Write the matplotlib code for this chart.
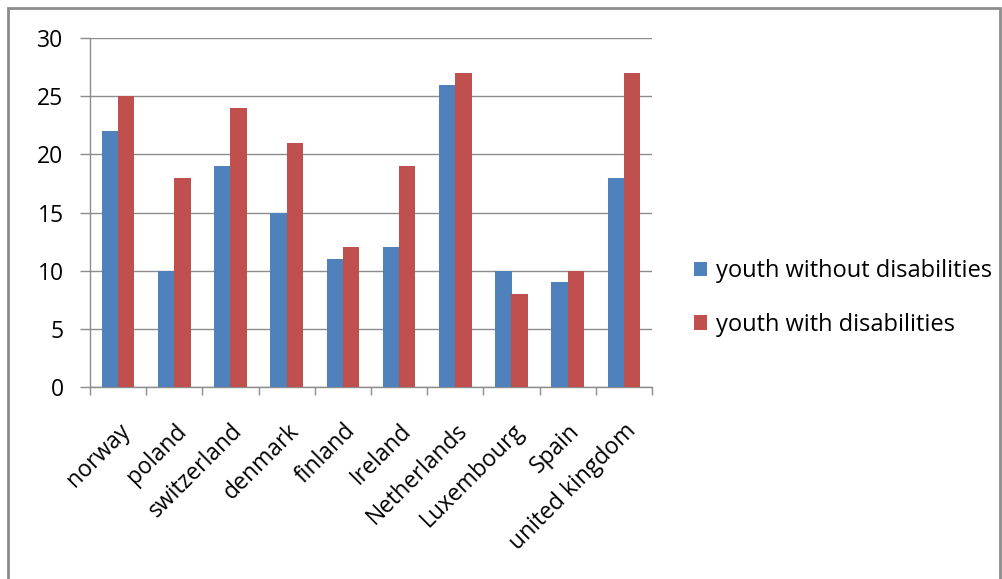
import numpy as np
import matplotlib.pyplot as plt
from matplotlib.patches import Rectangle

plt.rcParams['font.family'] = ['Open Sans', 'DejaVu Sans']

# chart data
countries = ['norway', 'poland', 'switzerland', 'denmark', 'finland', 'Ireland',
             'Netherlands', 'Luxembourg', 'Spain', 'united kingdom']
without_dis = [22, 10, 19, 15, 11, 12, 26, 10, 9, 18]
with_dis = [25, 18, 24, 21, 12, 19, 27, 8, 10, 27]
series_names = ['youth without disabilities', 'youth with disabilities']

blue = '#4F81BD'
red = '#C0504D'
grid_c = '#8C8C8C'

fig = plt.figure(figsize=(10.03, 5.79), dpi=100)
# outer chart border
fig.patches.append(Rectangle((8/1003, -0.05), (1000-8)/1003, 1.05 - 8/579,
                             transform=fig.transFigure, fill=False,
                             edgecolor='#8C8C8C', linewidth=2))

ax = fig.add_axes([90/1003, (579-387)/579, (652-90)/1003, (387-38)/579])

x = np.arange(len(countries))
w = 0.29
ax.bar(x - w/2, without_dis, w, color=blue, label=series_names[0], zorder=3)
ax.bar(x + w/2, with_dis, w, color=red, label=series_names[1], zorder=3)

ax.set_xlim(-0.5, len(countries) - 0.5)
ax.set_ylim(0, 30)
ax.set_yticks(range(0, 31, 5))
ax.yaxis.grid(True, color=grid_c, linewidth=1, zorder=0)

ax.set_xticks(x)
ax.set_xticklabels(countries, rotation=45, ha='right', rotation_mode='anchor', fontsize=16.5)
ax.tick_params(axis='x', length=0, pad=23)
ax.set_xticks(np.arange(-0.5, len(countries), 1), minor=True)
ax.tick_params(axis='x', which='minor', length=6, color=grid_c, width=1)
ax.tick_params(axis='y', length=7, color=grid_c, width=1, labelsize=16.5, pad=12)

for s in ['top', 'right']:
    ax.spines[s].set_visible(False)
for s in ['left', 'bottom']:
    ax.spines[s].set_color(grid_c)
    ax.spines[s].set_linewidth(1)

ax.legend(loc='center left', bbox_to_anchor=(1.037, 0.255), frameon=False,
          fontsize=17, handlelength=0.55, handleheight=0.55, handletextpad=0.4,
          labelspacing=1.25)

plt.savefig('out.png', dpi=100)
